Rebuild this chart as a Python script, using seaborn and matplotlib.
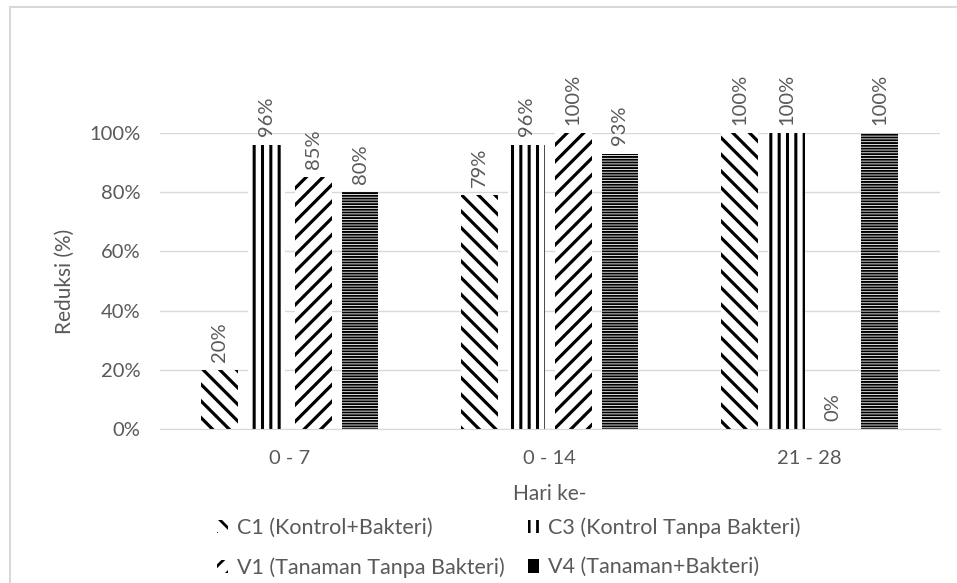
import pandas as pd
import seaborn as sns
import numpy as np
import matplotlib.pyplot as plt
import matplotlib.patches as mpatches

periods = ['0 - 7', '0 - 14', '21 - 28']
treatments = ['C1 (Kontrol+Bakteri)', 'C3 (Kontrol Tanpa Bakteri)',
              'V1 (Tanaman Tanpa Bakteri)', 'V4 (Tanaman+Bakteri)']
c1 = [20, 79, 100]
c3 = [96, 96, 100]
v1 = [85, 100, 0]
v4 = [80, 93, 100]

hatches = ['\\\\', '||', '//', '------']
hatch_lw = [2.3, 2.2, 2.3, 1.4]
grey = '#595959'

rows = []
for name, vals in zip(treatments, [c1, c3, v1, v4]):
    for p, v in zip(periods, vals):
        rows.append({'Hari': p, 'Reduksi': v, 'Perlakuan': name})
df = pd.DataFrame(rows)

sns.set_style('white')
plt.rcParams['font.family'] = ['Lato', 'DejaVu Sans']
plt.rcParams['hatch.linewidth'] = 2.0

fig, ax = plt.subplots(figsize=(9.57, 5.83), dpi=100)
fig.subplots_adjust(left=0.167, right=0.982, bottom=0.264, top=0.772)

sns.barplot(data=df, x='Hari', y='Reduksi', hue='Perlakuan', order=periods,
            hue_order=treatments, palette=['white'] * 4, width=0.72, gap=0.21,
            edgecolor='black', linewidth=0, legend=False, ax=ax)

for cont, h, lw in zip(ax.containers, hatches, hatch_lw):
    for bar in cont:
        bar.set_hatch(h)
        bar.set_edgecolor('black')
        bar.set_linewidth(0)
        try:
            bar.set_hatch_linewidth(lw)
        except AttributeError:
            pass
    ax.bar_label(cont, labels=[f'{v:.0f}%' for v in cont.datavalues],
                 rotation=90, padding=6, color=grey, fontsize=14.5, clip_on=False)

ax.set_ylim(0, 100)
ax.set_yticks(np.arange(0, 101, 20))
ax.set_yticklabels([f'{t}%' for t in range(0, 101, 20)])
ax.yaxis.grid(True, color='#d9d9d9', lw=1)
ax.set_axisbelow(True)
for s in ['top', 'right', 'left']:
    ax.spines[s].set_visible(False)
ax.spines['bottom'].set_color('#d9d9d9')
ax.tick_params(axis='both', length=0, labelsize=14.5, labelcolor=grey)
ax.tick_params(axis='y', pad=14)
ax.tick_params(axis='x', pad=15)
ax.set_ylabel('Reduksi (%)', fontsize=15, color=grey, labelpad=10)
ax.set_xlabel('Hari ke-', fontsize=15, color=grey, labelpad=12)

handles = []
for h, lw in zip(hatches, hatch_lw):
    p = mpatches.Patch(facecolor='white', edgecolor='black', hatch=h, linewidth=0)
    try:
        p.set_hatch_linewidth(lw)
    except AttributeError:
        pass
    handles.append(p)
order = [0, 2, 1, 3]
fig.legend([handles[i] for i in order], [treatments[i] for i in order],
           loc='upper left', bbox_to_anchor=(198 / 957, 1 - 498 / 583), ncol=2,
           frameon=False, fontsize=15.5, labelcolor=grey, handlelength=0.5,
           handleheight=0.6, handletextpad=0.4, columnspacing=1.1,
           labelspacing=0.9)

fig.add_artist(mpatches.Rectangle((10 / 957, -0.1), 1.2, 1 - 7 / 583 + 0.1,
                                  transform=fig.transFigure, fill=False,
                                  edgecolor='#d9d9d9', lw=1.5))

fig.savefig('out.png', dpi=100)
